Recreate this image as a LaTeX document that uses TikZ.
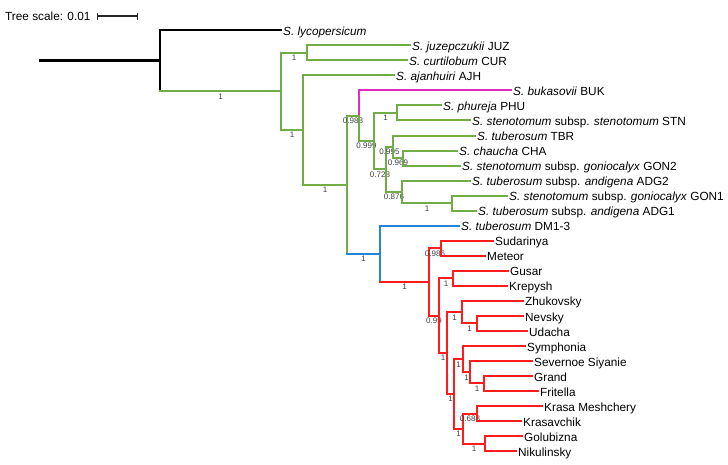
\documentclass[tikz,border=0pt]{standalone}
\usepackage{fontspec}
\setmainfont{Liberation Sans}
\usetikzlibrary{arrows.meta}

\definecolor{cladegreen}{RGB}{112,173,71}
\definecolor{cladeblue}{RGB}{38,132,218}
\definecolor{cladered}{RGB}{255,28,28}
\definecolor{cladepink}{RGB}{228,44,196}

\tikzset{
    leaf/.style={anchor=west, inner xsep=2pt, inner ysep=0pt, text height=11pt, text depth=1pt,
        font=\fontsize{11.8}{14}\selectfont},
    boot/.style={below, inner sep=1.5pt, font=\fontsize{8}{9}\selectfont, text=black!75},
    blk/.style={line width=2.5pt, line cap=rect, black},
    grn/.style={line width=2pt, line cap=rect, cladegreen},
    blu/.style={line width=2pt, line cap=rect, cladeblue},
    rd/.style={line width=2pt, line cap=rect, cladered},
    pnk/.style={line width=2pt, line cap=rect, cladepink},
}

\begin{document}
\begin{tikzpicture}[x=1pt, y=-1pt]
    \useasboundingbox (0,0) rectangle (728,464);

    \node[anchor=west, inner sep=0pt, font=\fontsize{11.8}{14}\selectfont] (scaletxt) at (5,16) {Tree scale: 0.01};
    \coordinate (sbl) at (97,16);
    \coordinate (sbr) at (138,16);
    \draw[black!85, line width=1.3pt, {Bar[width=7pt]}-{Bar[width=7pt]}] (sbl) -- (sbr);

    % leaves
    \node[leaf] (lyc) at (281,30) {\textit{S. lycopersicum}};
    \node[leaf] (juz) at (410,45) {\textit{S. juzepczukii} JUZ};
    \node[leaf] (cur) at (407,60) {\textit{S. curtilobum} CUR};
    \node[leaf] (ajh) at (394,75) {\textit{S. ajanhuiri} AJH};
    \node[leaf] (buk) at (511,90) {\textit{S. bukasovii} BUK};
    \node[leaf] (phu) at (441,105) {\textit{S. phureja} PHU};
    \node[leaf] (stn) at (470,120) {\textit{S. stenotomum} subsp. \textit{stenotomum} STN};
    \node[leaf] (tbr) at (475,135.5) {\textit{S. tuberosum} TBR};
    \node[leaf] (cha) at (457,150.5) {\textit{S. chaucha} CHA};
    \node[leaf] (gon2) at (460,165.5) {\textit{S. stenotomum} subsp. \textit{goniocalyx} GON2};
    \node[leaf] (adg2) at (470,180.5) {\textit{S. tuberosum} subsp. \textit{andigena} ADG2};
    \node[leaf] (gon1) at (507,195.5) {\textit{S. stenotomum} subsp. \textit{goniocalyx} GON1};
    \node[leaf] (adg1) at (476,210.5) {\textit{S. tuberosum} subsp. \textit{andigena} ADG1};
    \node[leaf] (dm) at (459,225.5) {\textit{S. tuberosum} DM1-3};
    \node[leaf] (sud) at (493,240.5) {Sudarinya};
    \node[leaf] (met) at (485,255.5) {Meteor};
    \node[leaf] (gus) at (508,270.5) {Gusar};
    \node[leaf] (kre) at (507,285.5) {Krepysh};
    \node[leaf] (zhu) at (523,300.5) {Zhukovsky};
    \node[leaf] (nev) at (523,316) {Nevsky};
    \node[leaf] (uda) at (527,331) {Udacha};
    \node[leaf] (sym) at (525,346) {Symphonia};
    \node[leaf] (sev) at (532,361) {Severnoe Siyanie};
    \node[leaf] (gra) at (532,376) {Grand};
    \node[leaf] (fri) at (538,391) {Fritella};
    \node[leaf] (kra) at (542,406) {Krasa Meshchery};
    \node[leaf] (krv) at (521,421) {Krasavchik};
    \node[leaf] (gol) at (522,436) {Golubizna};
    \node[leaf] (nik) at (516,451) {Nikulinsky};

    % inner nodes
    \coordinate (base) at (40,60.6);
    \coordinate (top) at (160,60.6);
    \coordinate (potato) at (281,91.2);
    \coordinate (juzcur) at (307,52.6);
    \coordinate (ajhrest) at (303,129.9);
    \coordinate (core) at (347,184.6);
    \coordinate (bukgrp) at (359,115.5);
    \coordinate (cult) at (374,140.9);
    \coordinate (phustn) at (397,112.7);
    \coordinate (andean) at (386,169.1);
    \coordinate (tbrgrp) at (393,146.6);
    \coordinate (chagon) at (403,157.8);
    \coordinate (adggrp) at (402,191.7);
    \coordinate (gonadg) at (452,203);
    \coordinate (dmgrp) at (380,253.7);
    \coordinate (vars) at (429,281.8);
    \coordinate (sudmet) at (441,248.1);
    \coordinate (v99) at (439,315.5);
    \coordinate (guskre) at (453,278.2);
    \coordinate (vp) at (447,352.9);
    \coordinate (zhugrp) at (462,312);
    \coordinate (nevuda) at (477,323.3);
    \coordinate (vr) at (454,393.8);
    \coordinate (symgrp) at (463,359);
    \coordinate (sevgrp) at (470,372.2);
    \coordinate (grafri) at (484,383.4);
    \coordinate (kragrp) at (463,428.6);
    \coordinate (krakrv) at (477,413.5);
    \coordinate (golnik) at (485,443.6);

    % outgroup
    \draw[blk] (base) -- (top);
    \draw[blk] (top |- lyc.west) -- (top |- potato);
    \draw[blk] (top |- lyc.west) -- (lyc.west);
    \draw[grn] (top |- potato) -- (potato) node[boot, midway] (bpotato) {1};

    % green clade
    \draw[grn] (potato |- juzcur) -- (potato |- ajhrest);
    \draw[grn] (potato |- juzcur) -- (juzcur) node[boot, midway] (bjuzcur) {1};
    \draw[grn] (potato |- ajhrest) -- (ajhrest) node[boot, midway] (bajhrest) {1};
    \draw[grn] (juzcur |- juz.west) -- (juzcur |- cur.west);
    \draw[grn] (juzcur |- juz.west) -- (juz.west);
    \draw[grn] (juzcur |- cur.west) -- (cur.west);
    \draw[grn] (ajhrest |- ajh.west) -- (ajhrest |- core);
    \draw[grn] (ajhrest |- ajh.west) -- (ajh.west);
    \draw[grn] (ajhrest |- core) -- (core) node[boot, midway] (bcore) {1};
    \draw[grn] (core |- bukgrp) -- (core |- dmgrp);
    \draw[grn] (core |- bukgrp) -- (bukgrp) node[boot, midway] (bbukgrp) {0.988};
    \draw[pnk] (bukgrp |- buk.west) -- (bukgrp);
    \draw[grn] (bukgrp) -- (bukgrp |- cult);
    \draw[pnk] (bukgrp |- buk.west) -- (buk.west);
    \draw[grn] (bukgrp |- cult) -- (cult) node[boot, midway] (bcult) {0.999};
    \draw[grn] (cult |- phustn) -- (cult |- andean);
    \draw[grn] (cult |- phustn) -- (phustn) node[boot, midway] (bphustn) {1};
    \draw[grn] (cult |- andean) -- (andean) node[boot, midway] (bandean) {0.728};
    \draw[grn] (phustn |- phu.west) -- (phustn |- stn.west);
    \draw[grn] (phustn |- phu.west) -- (phu.west);
    \draw[grn] (phustn |- stn.west) -- (stn.west);
    \draw[grn] (andean |- tbrgrp) -- (andean |- adggrp);
    \draw[grn] (andean |- tbrgrp) -- (tbrgrp) node[boot, midway] (btbrgrp) {0.995};
    \draw[grn] (andean |- adggrp) -- (adggrp) node[boot, midway] (badggrp) {0.876};
    \draw[grn] (tbrgrp |- tbr.west) -- (tbrgrp |- chagon);
    \draw[grn] (tbrgrp |- tbr.west) -- (tbr.west);
    \draw[grn] (tbrgrp |- chagon) -- (chagon) node[boot, midway] (bchagon) {0.969};
    \draw[grn] (chagon |- cha.west) -- (chagon |- gon2.west);
    \draw[grn] (chagon |- cha.west) -- (cha.west);
    \draw[grn] (chagon |- gon2.west) -- (gon2.west);
    \draw[grn] (adggrp |- adg2.west) -- (adggrp |- gonadg);
    \draw[grn] (adggrp |- adg2.west) -- (adg2.west);
    \draw[grn] (adggrp |- gonadg) -- (gonadg) node[boot, midway] (bgonadg) {1};
    \draw[grn] (gonadg |- gon1.west) -- (gonadg |- adg1.west);
    \draw[grn] (gonadg |- gon1.west) -- (gon1.west);
    \draw[grn] (gonadg |- adg1.west) -- (adg1.west);

    % blue and red
    \draw[blu] (core |- dmgrp) -- (dmgrp) node[boot, midway] (bdmgrp) {1};
    \draw[blu] (dmgrp |- dm.west) -- (dmgrp |- vars);
    \draw[blu] (dmgrp |- dm.west) -- (dm.west);
    \draw[rd] (dmgrp |- vars) -- (vars) node[boot, midway] (bvars) {1};
    \draw[rd] (vars |- sudmet) -- (vars |- v99);
    \draw[rd] (vars |- sudmet) -- (sudmet) node[boot, midway] (bsudmet) {0.986};
    \draw[rd] (vars |- v99) -- (v99) node[boot, midway] (bv99) {0.99};
    \draw[rd] (sudmet |- sud.west) -- (sudmet |- met.west);
    \draw[rd] (sudmet |- sud.west) -- (sud.west);
    \draw[rd] (sudmet |- met.west) -- (met.west);
    \draw[rd] (v99 |- guskre) -- (v99 |- vp);
    \draw[rd] (v99 |- guskre) -- (guskre) node[boot, midway] (bguskre) {1};
    \draw[rd] (v99 |- vp) -- (vp) node[boot, midway] (bvp) {1};
    \draw[rd] (guskre |- gus.west) -- (guskre |- kre.west);
    \draw[rd] (guskre |- gus.west) -- (gus.west);
    \draw[rd] (guskre |- kre.west) -- (kre.west);
    \draw[rd] (vp |- zhugrp) -- (vp |- vr);
    \draw[rd] (vp |- zhugrp) -- (zhugrp) node[boot, midway] (bzhugrp) {1};
    \draw[rd] (vp |- vr) -- (vr) node[boot, midway] (bvr) {1};
    \draw[rd] (zhugrp |- zhu.west) -- (zhugrp |- nevuda);
    \draw[rd] (zhugrp |- zhu.west) -- (zhu.west);
    \draw[rd] (zhugrp |- nevuda) -- (nevuda) node[boot, midway] (bnevuda) {1};
    \draw[rd] (nevuda |- nev.west) -- (nevuda |- uda.west);
    \draw[rd] (nevuda |- nev.west) -- (nev.west);
    \draw[rd] (nevuda |- uda.west) -- (uda.west);
    \draw[rd] (vr |- symgrp) -- (vr |- kragrp);
    \draw[rd] (vr |- symgrp) -- (symgrp) node[boot, midway] (bsymgrp) {1};
    \draw[rd] (vr |- kragrp) -- (kragrp) node[boot, midway] (bkragrp) {1};
    \draw[rd] (symgrp |- sym.west) -- (symgrp |- sevgrp);
    \draw[rd] (symgrp |- sym.west) -- (sym.west);
    \draw[rd] (symgrp |- sevgrp) -- (sevgrp) node[boot, midway] (bsevgrp) {1};
    \draw[rd] (sevgrp |- sev.west) -- (sevgrp |- grafri);
    \draw[rd] (sevgrp |- sev.west) -- (sev.west);
    \draw[rd] (sevgrp |- grafri) -- (grafri) node[boot, midway] (bgrafri) {1};
    \draw[rd] (grafri |- gra.west) -- (grafri |- fri.west);
    \draw[rd] (grafri |- gra.west) -- (gra.west);
    \draw[rd] (grafri |- fri.west) -- (fri.west);
    \draw[rd] (kragrp |- krakrv) -- (kragrp |- golnik);
    \draw[rd] (kragrp |- krakrv) -- (krakrv) node[boot, midway] (bkrakrv) {0.688};
    \draw[rd] (kragrp |- golnik) -- (golnik) node[boot, midway] (bgolnik) {1};
    \draw[rd] (krakrv |- kra.west) -- (krakrv |- krv.west);
    \draw[rd] (krakrv |- kra.west) -- (kra.west);
    \draw[rd] (krakrv |- krv.west) -- (krv.west);
    \draw[rd] (golnik |- gol.west) -- (golnik |- nik.west);
    \draw[rd] (golnik |- gol.west) -- (gol.west);
    \draw[rd] (golnik |- nik.west) -- (nik.west);
\end{tikzpicture}
\end{document}
